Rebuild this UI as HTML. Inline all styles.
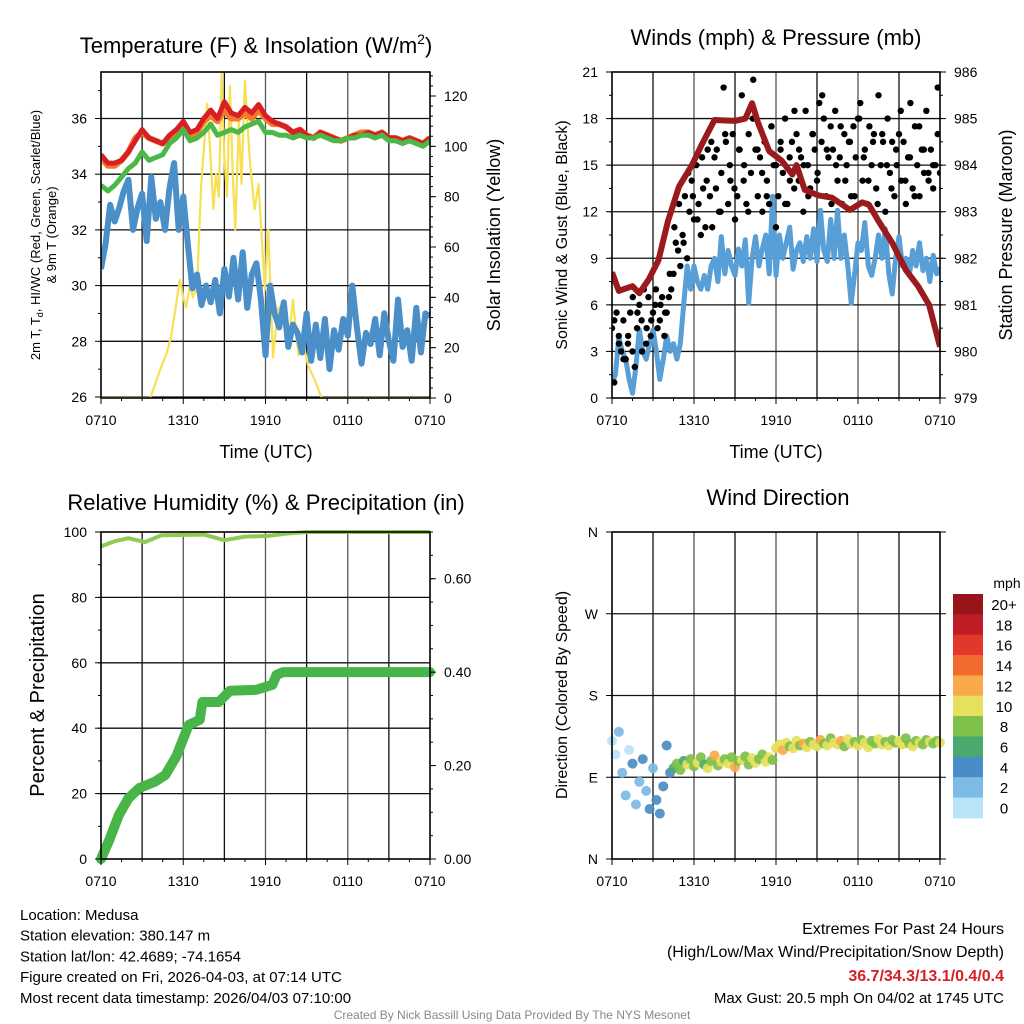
<!DOCTYPE html>
<html><head><meta charset="utf-8"><title>Mesonet Meteogram</title>
<style>
html,body{margin:0;padding:0;background:#fff;}
svg{display:block;font-family:"Liberation Sans",Arial,sans-serif;}
</style></head>
<body>
<svg id="fig" width="1024" height="1024" viewBox="0 0 1024 1024" xmlns="http://www.w3.org/2000/svg">
<rect x="0" y="0" width="1024" height="1024" fill="#fff"/>
</svg>
<script>
// ---- Panel 1: temperature & insolation ----
const tempRed = [34.7,34.4,34.4,34.5,34.8,35.2,35.6,35.3,35.2,35.1,35.4,35.6,35.9,35.5,35.6,36.0,36.3,36.0,36.6,36.2,36.1,36.4,36.2,36.5,36.1,35.9,35.8,35.7,35.5,35.6,35.4,35.3,35.5,35.4,35.3,35.2,35.3,35.4,35.4,35.5,35.4,35.5,35.3,35.3,35.2,35.3,35.2,35.1,35.3];
const tempOrange = [34.6,34.3,34.3,34.5,34.8,35.3,35.5,35.3,35.2,35.1,35.3,35.5,35.8,35.4,35.5,35.9,36.1,35.9,36.3,36.0,36.0,36.2,36.0,36.3,36.0,35.8,35.8,35.7,35.5,35.6,35.4,35.3,35.5,35.4,35.3,35.2,35.3,35.4,35.5,35.5,35.4,35.5,35.3,35.3,35.2,35.3,35.2,35.1,35.3];
const tempGreen = [33.6,33.4,33.6,33.9,34.2,34.4,34.8,34.5,34.6,34.7,35.1,35.3,35.6,35.2,35.3,35.5,35.8,35.4,35.5,35.6,35.5,35.7,35.8,35.9,35.5,35.5,35.4,35.4,35.3,35.4,35.3,35.3,35.4,35.3,35.2,35.2,35.3,35.3,35.4,35.4,35.3,35.4,35.2,35.2,35.1,35.2,35.1,35.0,35.2];
const dewBlue = [30.6,31.5,32.9,32.3,32.8,33.4,33.8,32.0,32.8,33.3,31.6,33.9,32.4,33.0,32.0,33.5,34.4,32.0,33.2,31.5,29.9,30.4,29.3,30.0,29.4,30.2,29.0,30.6,29.6,31.0,29.5,31.2,29.2,30.4,30.8,29.5,27.5,30.0,29.0,28.5,29.4,27.8,28.6,28.3,27.6,29.0,27.3,28.6,27.4,28.8,27.0,28.4,27.7,28.8,28.2,30.0,28.5,27.2,28.3,27.9,28.8,27.5,29.0,28.0,27.3,29.5,27.8,28.4,27.3,29.2,27.6,29.0,28.9];
const solarHours = [0,3.6,4.3,4.8,5.1,5.5,5.75,6.0,6.2,6.5,6.7,7.0,7.3,7.75,8.0,8.2,8.4,8.6,8.8,9.0,9.2,9.4,9.6,9.8,10.05,10.25,10.5,10.85,11.2,11.5,11.95,12.2,12.55,12.9,13.3,13.65,14.0,14.4,14.75,15.1,15.6,16.1,24];
const solarValues = [0,0,11,18,24,38,47,40,36,45,40,44,84,117,95,75,89,80,129,95,80,124,90,67,110,85,126,95,75,85,43,67,16,35,38,20,39,17,22,13,7,0,0];
// ---- Panel 2: winds & pressure ----
const presHours = [0,0.5,1.5,2,2.7,3.4,4.1,4.9,5.85,6.6,7.5,9.0,9.75,10.25,10.7,11.5,12.4,13.2,13.5,14.1,15.1,16.1,17.4,18.3,18.8,19.5,20.5,21.5,22.4,23.2,24.0];
const presValues = [981.7,981.3,981.4,981.25,981.55,981.96,982.8,983.54,984.0,984.46,984.97,984.95,985.0,985.33,984.9,984.3,984.1,983.8,984.0,983.47,983.35,983.3,983.04,983.2,983.15,982.8,982.33,981.75,981.4,981.0,980.1];
const windSpeed = [1.0,1.5,3.9,3.0,2.5,1.2,0.3,2.0,4.4,3.0,2.5,3.5,4.4,3.0,1.2,2.5,4.0,3.0,3.5,2.5,3.5,6.1,8.5,7.0,8.5,7.5,7.0,7.9,7.0,8.5,9.0,7.5,10.4,8.0,9.5,8.5,7.9,9.6,8.5,10.2,6.1,9.0,10.4,8.5,9.6,10.5,8.0,13.0,7.9,10.5,9.0,10.0,11.0,8.3,9.5,10.0,8.8,10.4,9.0,10.9,8.8,12.1,9.5,8.8,11.5,9.0,12.1,9.0,10.5,8.5,6.1,8.0,10.0,9.5,11.3,8.5,7.9,9.0,10.5,9.0,10.9,8.0,6.7,9.0,10.4,8.5,9.0,7.9,9.5,8.5,10.0,8.2,9.0,7.5,9.2,8.0,8.4];
const gustSpeed = [4.5,1.0,5.5,4.0,3.0,5.0,2.5,3.5,5.5,3.0,2.0,4.5,6.0,5.0,7.0,3.5,6.5,4.0,5.5,6.0,4.5,5.0,6.5,4.0,5.5,6.5,7.0,8.0,10.0,9.5,8.5,10.5,13.0,9.0,12.0,14.0,11.5,15.0,12.5,10.5,13.5,11.0,16.0,13.0,11.0,15.5,16.0,12.0,14.5,20.0,16.5,12.5,14.0,17.0,11.5,13.0,16.0,19.5,15.0,12.5,17.0,14.5,20.5,16.0,13.0,15.5,12.0,16.5,14.0,12.5,17.5,15.0,11.0,13.0,16.0,14.5,18.0,12.5,15.5,16.5,13.5,17.0,14.0,15.5,12.0,18.5,15.0,13.5,17.0,16.0,14.0,19.0,16.5,18.0,13.0,15.5,17.5,16.0,18.5,14.0,15.5,12.5,17.0,15.0,16.5,13.0,17.5,15.5,18.0,19.0,14.0,16.0,12.5,17.5,15.0,17.0,13.5,19.5,15.0,16.5,12.0,18.0,14.5,16.5,13.0,15.0,17.0,14.0,16.5,12.5,15.5,19.0,13.5,17.5,15.0,13.0,16.0,14.5,18.5,14.0,16.0,13.5,15.0,20.0,14.5];
const gustSpeed2 = [5.0,3.5,2.5,4.0,6.5,5.5,3.0,4.5,5.0,7.0,6.0,5.5,8.0,11.0,12.5,10.0,14.5,13.0,11.5,15.5,14.0,16.5,13.5,12.0,17.0,15.0,13.5,16.0,14.0,12.0,18.0,16.0,14.5,13.0,17.5,15.0,16.5,12.5,14.0,18.5,16.0,15.0,13.0,17.0,14.5,19.5,16.0,12.5,15.0,17.5,14.0,16.5,13.0,18.0,15.5,14.0,16.5,12.5,17.0,15.0,13.5,16.0,18.5,14.0,15.5,13.0,17.5,16.0,14.5,15.0,17.0,13.5];
// ---- Panel 3: RH & precipitation ----
const rhHours = [0,1.0,2.0,3.2,4.4,7.5,9.0,10.5,12.2,13.5,15.0,24];
const rhValues = [95.6,97.2,98.1,96.9,99.0,99.2,97.5,98.6,98.8,99.5,100,100];
const precipHours = [0,0.6,1.3,2.0,2.8,3.9,4.7,5.5,6.4,7.2,7.4,8.6,9.4,11.3,12.5,12.8,13.3,24];
const precipValues = [0,0.04,0.094,0.13,0.152,0.165,0.18,0.22,0.287,0.298,0.336,0.336,0.36,0.362,0.373,0.394,0.40,0.40];
// ---- Panel 4: wind direction ----
const dirValues = [130,115,140,95,70,120,105,60,85,110,75,55,100,65,50,80,125,95,
100,105,98,108,104,110,102,106,112,104,100,108,114,103,107,110,105,112,101,108,
109,113,104,111,106,110,115,107,112,109,122,126,120,128,124,122,130,125,127,123,
129,126,124,131,127,125,133,128,126,130,124,132,127,129,125,131,128,123,130,127,
132,126,129,125,131,128,130,126,133,127,124,130,128,126,131,129,127,130,128];
const dirSpeeds = [1,0.5,3,2,3,1.5,4,3,2,4,3,5,2,4,5,5,4,5,
7,8,9,7,10,8,9,11,8,7,10,9,12,8,10,9,11,8,12,9,
10,9,8,11,10,9,8,10,11,9,10,11,12,10,9,11,10,8,12,10,
9,11,10,13,9,10,8,11,10,12,9,10,11,8,10,9,11,10,9,8,
10,11,9,10,8,9,10,11,9,8,10,9,11,8,9,10,8,9,10];
const speedBins = ["0","2","4","6","8","10","12","14","16","18","20+"];
const binColors = ["#b8e3f8","#7cbbe6","#4a8dc6","#4aaa6e","#7dc04a","#e6e05c","#f8a94a","#f26a2c","#e2382b","#c11d26","#971519"];
const xTickLabels = ["0710","1310","1910","0110","0710"];

const NS = "http://www.w3.org/2000/svg";
const svg = document.getElementById("fig");
function mk(tag, attrs, parent){
  const e = document.createElementNS(NS, tag);
  for (const k in attrs) e.setAttribute(k, attrs[k]);
  (parent||svg).appendChild(e);
  return e;
}
function txt(s, x, y, size, anchor, parent, extra){
  const t = mk("text", Object.assign({x:x,y:y,"font-size":size,"text-anchor":anchor||"middle",fill:"#000"}, extra||{}), parent);
  t.textContent = s;
  return t;
}
function lin(d0,d1,r0,r1){ return v => r0 + (v-d0)*(r1-r0)/(d1-d0); }

function panelFrame(L,T,R,B,name){
  const g = mk("g",{});
  
  
  return g;
}
function grid(g,L,T,R,B,hlines){
  const X = lin(0,24,L,R);
  for (let h=3; h<24; h+=3){
    const l = mk("line",{x1:X(h),x2:X(h),y1:T,y2:B,stroke:(h%6===0)?"#555":"#111","stroke-width":1.3},g);
    
    
  }
  hlines.forEach(y=>{
    const l = mk("line",{x1:L,x2:R,y1:y,y2:y,stroke:"#111","stroke-width":1.3},g);
    
    
  });
}
function border(g,L,T,R,B){
  const r = mk("rect",{x:L,y:T,width:R-L,height:B-T,fill:"none",stroke:"#000","stroke-width":1.6},g);
  
  
}
function xAxis(g,L,R,B){
  const X = lin(0,24,L,R);
  for (let h=0; h<=24; h+=1.5){
    const major = h%6===0;
    mk("line",{x1:X(h),x2:X(h),y1:B,y2:B+(major?6:3),stroke:"#000","stroke-width":1},g);
  }
  xTickLabels.forEach((s,i)=>{
    const t = txt(s, X(i*6), B+27, 14, "middle", g);
    
    
  });
}
function leftTicks(g,L,scale,vals,minors,fmt){
  minors.forEach(v=>mk("line",{x1:L-3,x2:L,y1:scale(v),y2:scale(v),stroke:"#000","stroke-width":1},g));
  vals.forEach(v=>{
    mk("line",{x1:L-6,x2:L,y1:scale(v),y2:scale(v),stroke:"#000","stroke-width":1},g);
    const t = txt(fmt(v), L-14, scale(v)+5, 14, "end", g);
    
    
  });
}
function rightTicks(g,R,scale,vals,minors,fmt){
  minors.forEach(v=>mk("line",{x1:R,x2:R+3,y1:scale(v),y2:scale(v),stroke:"#000","stroke-width":1},g));
  vals.forEach(v=>{
    mk("line",{x1:R,x2:R+6,y1:scale(v),y2:scale(v),stroke:"#000","stroke-width":1},g);
    const t = txt(fmt(v), R+14, scale(v)+5, 14, "start", g);
    
    
  });
}
function pathFrom(hours, vals, X, Y){
  return hours.map((h,i)=>(i?"L":"M")+X(h).toFixed(1)+","+Y(vals[i]).toFixed(1)).join("");
}
function evenHours(n){ const a=[]; for(let i=0;i<n;i++) a.push(i*24/(n-1)); return a; }
function range(a,b,s){ const r=[]; for(let v=a; v<=b+1e-9; v+=s) r.push(+v.toFixed(4)); return r; }
function rot(s,x,y,size,g,name){
  const t = txt(s,x,y,size,"middle",g,{transform:"rotate(-90 "+x+" "+y+")"});
  
  
  return t;
}

// ===== Panel 1 =====
(function(){
  const L=101,T=72,R=430,B=398;
  const g = panelFrame(L,T,R,B,"temperature-panel");
  const X = lin(0,24,L,R), Y = lin(26,36,397,118.5), Ys = lin(0,120,398,96);
  grid(g,L,T,R,B,[26,28,30,32,34,36].map(Y));
  const clip = mk("clipPath",{id:"c1"},g); mk("rect",{x:L,y:T,width:R-L,height:B-T},clip);
  const cg = mk("g",{"clip-path":"url(#c1)"},g);
  const sol = mk("path",{d:pathFrom(solarHours,solarValues,X,Ys),fill:"none",stroke:"#f7e052","stroke-width":2.2,"stroke-linejoin":"round"},cg);
   
  const dw = mk("path",{d:pathFrom(evenHours(dewBlue.length),dewBlue,X,Y),fill:"none",stroke:"#4a8fc8","stroke-width":6,"stroke-linejoin":"round"},cg);
   
  const og = mk("path",{d:pathFrom(evenHours(tempOrange.length),tempOrange,X,Y),fill:"none",stroke:"#f47a2a","stroke-width":6,"stroke-linejoin":"round"},cg);
   
  const rd = mk("path",{d:pathFrom(evenHours(tempRed.length),tempRed,X,Y),fill:"none",stroke:"#d62025","stroke-width":5,"stroke-linejoin":"round"},cg);
   
  const gr = mk("path",{d:pathFrom(evenHours(tempGreen.length),tempGreen,X,Y),fill:"none",stroke:"#4cb848","stroke-width":5,"stroke-linejoin":"round"},cg);
   
  border(g,L,T,R,B);
  xAxis(g,L,R,B);
  leftTicks(g,L,Y,[26,28,30,32,34,36],range(27,37,2),v=>String(v));
  rightTicks(g,R,Ys,[0,20,40,60,80,100,120],range(0,128,4),v=>String(v));
  const t = txt("Temperature (F) & Insolation (W/m",256,53,22,"middle",g);
  const sup = mk("tspan",{"font-size":14,dy:-9},t); sup.textContent="2";
  const cl = mk("tspan",{"font-size":22,dy:9},t); cl.textContent=")";
   
  const yl = txt("",40,235,13,"middle",g,{transform:"rotate(-90 40 235)"});
  yl.innerHTML = '2m T, T<tspan font-size="9" dy="3">d</tspan><tspan dy="-3">, HI/WC (Red, Green, Scarlet/Blue)</tspan>';
   
  rot("& 9m T (Orange)",56,235,13,g,"temperature-y-axis-title-line2");
  rot("Solar Insolation (Yellow)",500,235,18,g,"solar-y-axis-title");
  const xl = txt("Time (UTC)",266,458,18,"middle",g);
   
})();

// ===== Panel 2 =====
(function(){
  const L=612,T=72,R=940,B=398;
  const g = panelFrame(L,T,R,B,"winds-panel");
  const X = lin(0,24,L,R), Y = lin(0,21,398,72), Yp = lin(979,986,398,72);
  grid(g,L,T,R,B,[3,6,9,12,15,18].map(Y));
  const clip = mk("clipPath",{id:"c2"},g); mk("rect",{x:L,y:T,width:R-L,height:B-T},clip);
  const cg = mk("g",{"clip-path":"url(#c2)"},g);
  const ws = mk("path",{d:pathFrom(evenHours(windSpeed.length),windSpeed,X,Y),fill:"none",stroke:"#579fd6","stroke-width":5,"stroke-linejoin":"round"},cg);
   
  const gh = evenHours(gustSpeed.length);
  gustSpeed.forEach((v,i)=>{
    const c = mk("circle",{cx:X(gh[i]),cy:Y(v),r:3.2,fill:"#000"},cg);
    
    
  });
  const gh2 = evenHours(gustSpeed2.length);
  const half = 12/(gustSpeed2.length-1);
  gustSpeed2.forEach((v,i)=>{
    const c = mk("circle",{cx:X(gh2[i]+half),cy:Y(v),r:3.2,fill:"#000"},cg);
    
    
  });
  const pr = mk("path",{d:pathFrom(presHours,presValues,X,Yp),fill:"none",stroke:"#9a1a1d","stroke-width":6,"stroke-linejoin":"round"},cg);
   
  border(g,L,T,R,B);
  xAxis(g,L,R,B);
  leftTicks(g,L,Y,[0,3,6,9,12,15,18,21],range(0,21,1.5),v=>String(v));
  rightTicks(g,R,Yp,[979,980,981,982,983,984,985,986],range(979,986,0.5),v=>String(v));
  const t = txt("Winds (mph) & Pressure (mb)",776,45,22,"middle",g);
   
  rot("Sonic Wind & Gust (Blue, Black)",567,235,16,g,"wind-y-axis-title");
  rot("Station Pressure (Maroon)",1012,235,18,g,"pressure-y-axis-title");
  const xl = txt("Time (UTC)",776,458,18,"middle",g);
   
})();

// ===== Panel 3 =====
(function(){
  const L=101,T=532,R=430,B=859;
  const g = panelFrame(L,T,R,B,"humidity-panel");
  const X = lin(0,24,L,R), Y = lin(0,100,859,532), Yp = lin(0,0.7,859,532);
  grid(g,L,T,R,B,[20,40,60,80].map(Y));
  const pc = mk("path",{d:pathFrom(precipHours,precipValues,X,Yp),fill:"none",stroke:"#48b548","stroke-width":10,"stroke-linejoin":"round","stroke-linecap":"round"},g);
   
  const clip = mk("clipPath",{id:"c3"},g); mk("rect",{x:L,y:T-3,width:R-L+3,height:B-T+3},clip);
  const rh = mk("path",{d:pathFrom(rhHours,rhValues,X,Y),fill:"none",stroke:"#8fcb52","stroke-width":4,"stroke-linejoin":"round","clip-path":"url(#c3)"},g);
   
  border(g,L,T,R,B);
  xAxis(g,L,R,B);
  leftTicks(g,L,Y,[0,20,40,60,80,100],range(0,100,10),v=>String(v));
  rightTicks(g,R,Yp,[0,0.2,0.4,0.6],range(0,0.7,0.05),v=>v.toFixed(2));
  const t = txt("Relative Humidity (%) & Precipitation (in)",266,510,22,"middle",g);
   
  rot("Percent & Precipitation",44,695,20,g,"humidity-y-axis-title");
})();

// ===== Panel 4 =====
(function(){
  const L=612,T=532,R=940,B=859;
  const g = panelFrame(L,T,R,B,"wind-direction-panel");
  const X = lin(0,24,L,R), Y = lin(0,360,859,532);
  grid(g,L,T,R,B,[90,180,270].map(Y));
  const dh = evenHours(dirValues.length);
  function binOf(s){ return s>=20?10:Math.floor(s/2); }
  dirValues.forEach((d,i)=>{
    const c = mk("circle",{cx:X(dh[i]),cy:Y(d),r:5,fill:binColors[binOf(dirSpeeds[i])],"fill-opacity":0.92},g);
    
    
  });
  border(g,L,T,R,B);
  xAxis(g,L,R,B);
  ["N","E","S","W","N"].forEach((s,i)=>{
    mk("line",{x1:L-6,x2:L,y1:Y(i*90),y2:Y(i*90),stroke:"#000"},g);
    const t = txt(s,L-14,Y(i*90)+5,14,"end",g);
     
  });
  [0,90,180,270,360].forEach(v=>mk("line",{x1:R,x2:R+6,y1:Y(v),y2:Y(v),stroke:"#000"},g));
  const t = txt("Wind Direction",778,505,22,"middle",g);
   
  rot("Direction (Colored By Speed)",567,695,16,g,"direction-y-axis-title");
  const cb = mk("g",{},g);
   
  const cbTop=594, cbH=20.35;
  speedBins.forEach((lab,i)=>{
    const k = speedBins.length-1-i;
    const r = mk("rect",{x:953,y:cbTop+i*cbH,width:30,height:cbH+0.5,fill:binColors[k]},cb);
     
    const tl = txt(speedBins[k],1004,cbTop+i*cbH+16,15,"middle",cb);
     
  });
  const u = txt("mph",1007,588,14,"middle",cb);
   
})();

// ===== Footer =====
(function(){
  const g = mk("g",{});
   
  ["Location: Medusa","Station elevation: 380.147 m","Station lat/lon: 42.4689; -74.1654","Figure created on Fri, 2026-04-03, at 07:14 UTC","Most recent data timestamp: 2026/04/03 07:10:00"].forEach((s,i)=>{
    const t = txt(s,20,920+i*20.7,15,"start",g);
     
  });
  const a = txt("Extremes For Past 24 Hours",1004,934,16,"end",g);
   
  const b = txt("(High/Low/Max Wind/Precipitation/Snow Depth)",1004,957,16,"end",g);
   
  const c = txt("36.7/34.3/13.1/0.4/0.4",1004,981,16,"end",g,{fill:"#d62025","font-weight":"bold"});
   
  const d = txt("Max Gust: 20.5 mph On 04/02 at 1745 UTC",1004,1003,15,"end",g);
   
  const e = txt("Created By Nick Bassill Using Data Provided By The NYS Mesonet",512,1019,12,"middle",g,{fill:"#888"});
   
})();
</script>
</body></html>
